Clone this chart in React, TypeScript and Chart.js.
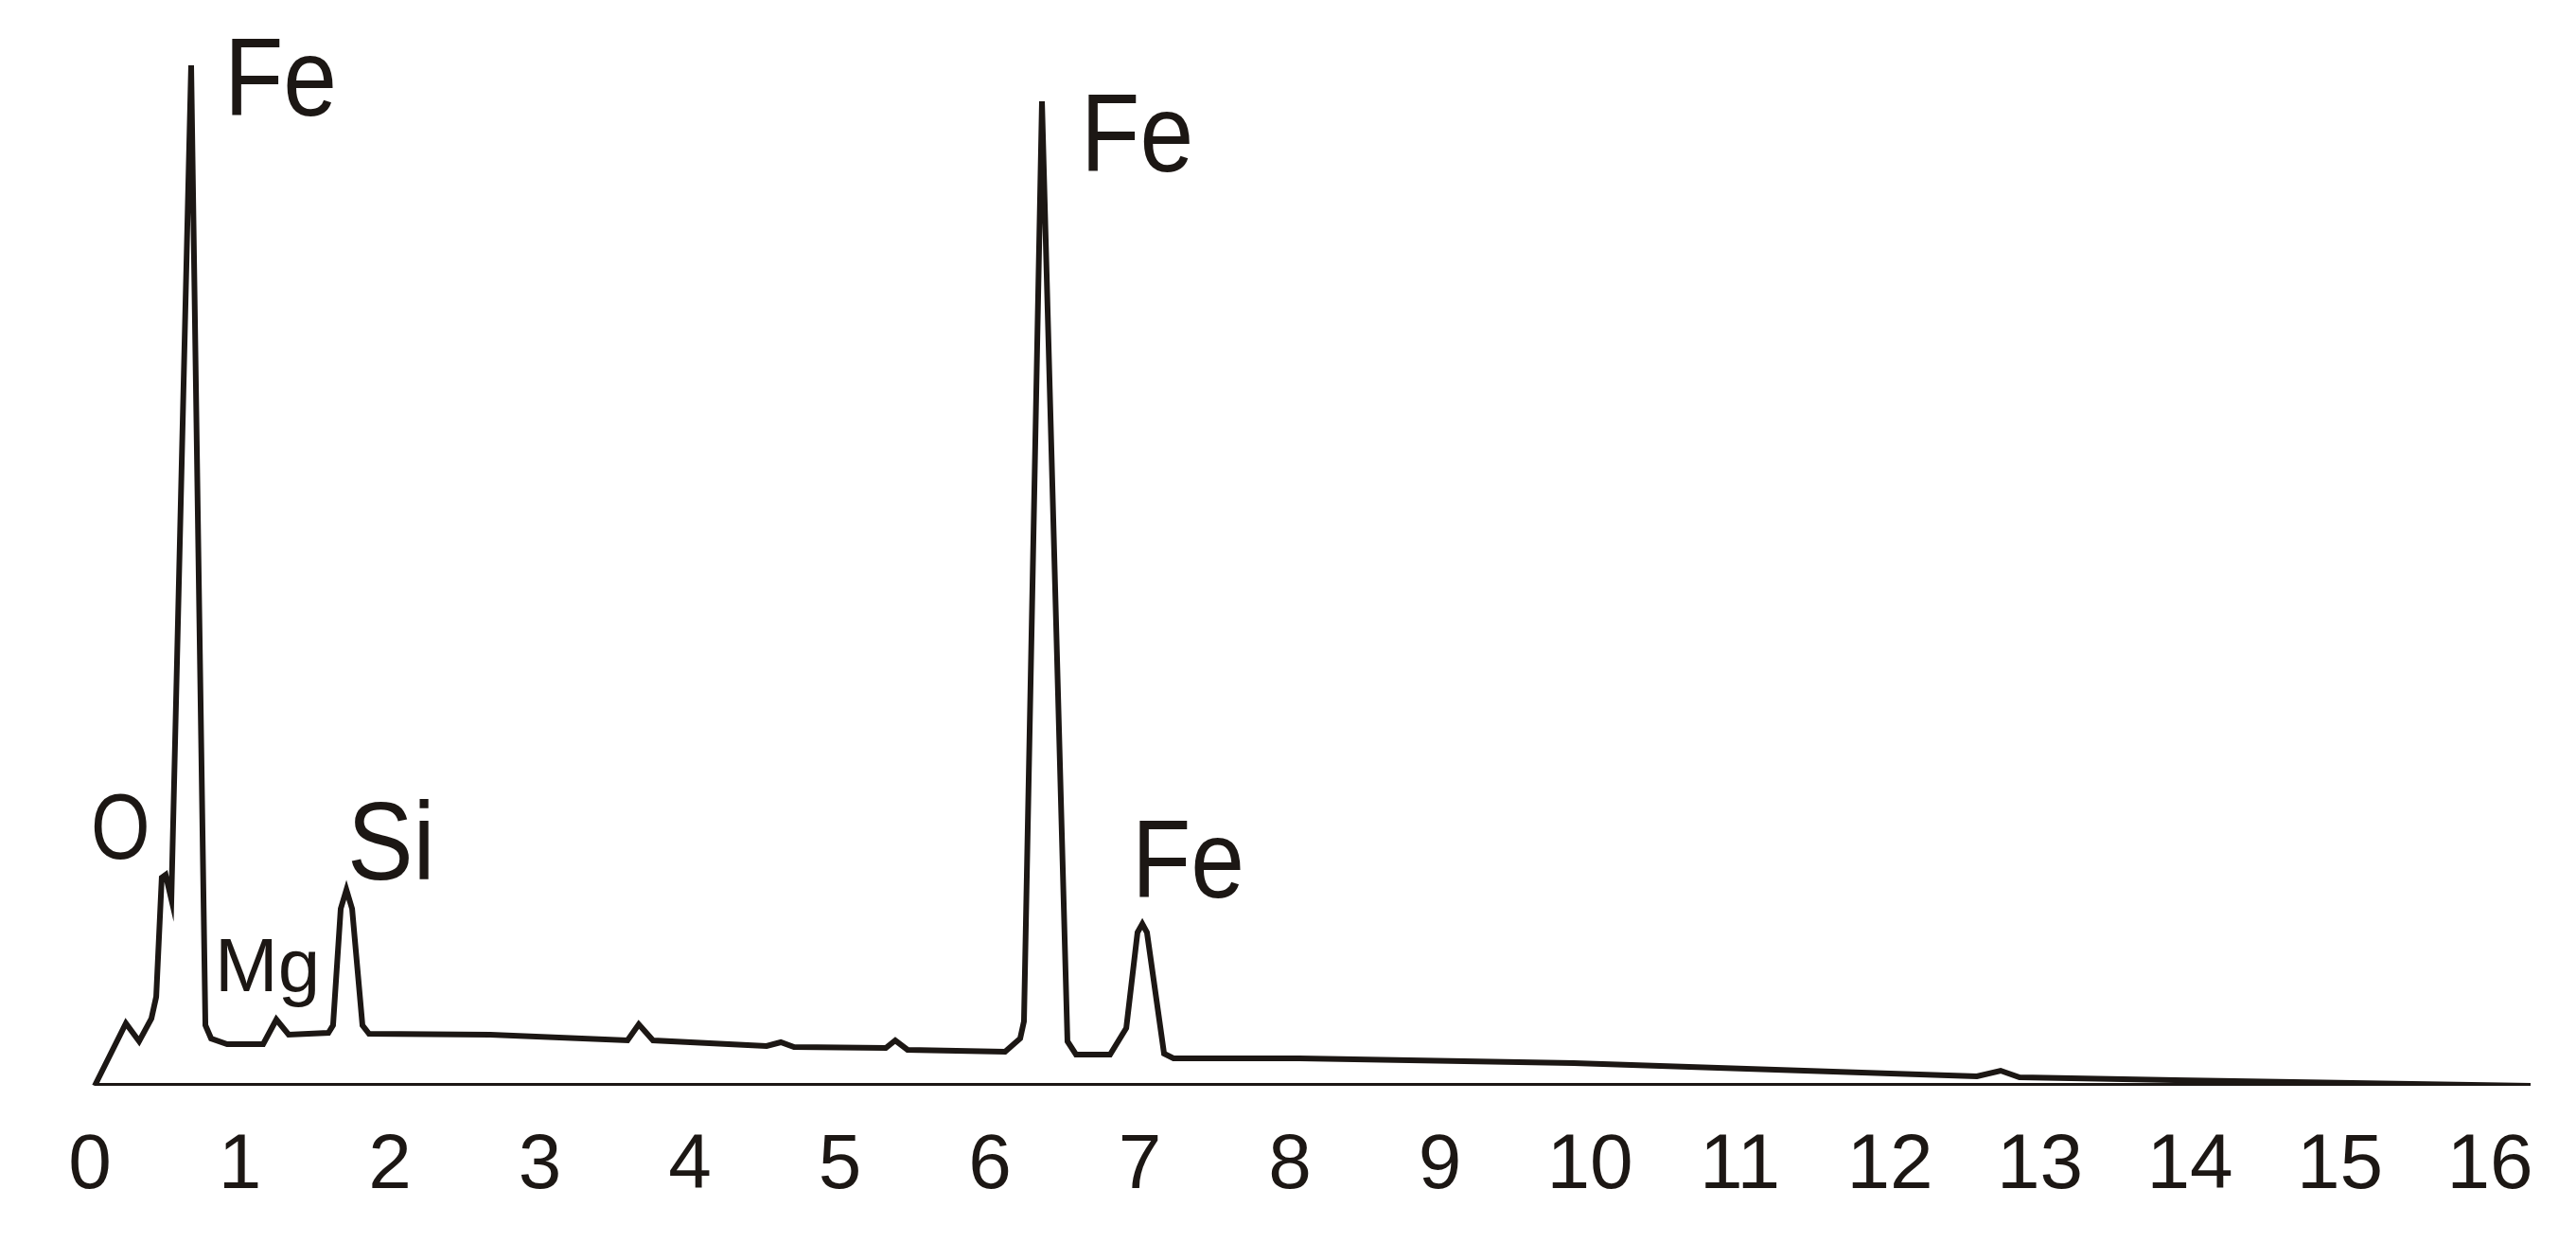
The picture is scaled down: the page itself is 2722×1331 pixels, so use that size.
import React, { useEffect, useRef } from 'react';
import { Chart, registerables } from 'chart.js';

Chart.register(...registerables);

// Spectrum trace (energy in keV, counts in arbitrary units)
const energy = [
  0.032, 0.240, 0.328, 0.410, 0.442, 0.479, 0.505, 0.543, 0.675, 0.770,
  0.808, 0.915, 1.155, 1.243, 1.325, 1.590, 1.621, 1.672, 1.710, 1.748,
  1.817, 1.861, 2.669, 3.584, 3.659, 3.754, 4.511, 4.606, 4.694, 5.306,
  5.369, 5.451, 6.101, 6.202, 6.227, 6.347, 6.517, 6.574, 6.801, 6.909,
  6.984, 7.016, 7.047, 7.161, 7.224, 8.063, 9.893, 12.580, 12.738, 12.864,
  13.899, 16.271,
];
const counts = [
  0, 66, 47, 71, 94, 220, 223, 197, 1078, 64,
  50, 44, 44, 70, 54, 56, 64, 187, 207, 187,
  64, 55, 54, 48, 65, 48, 42, 46, 41, 40,
  48, 38, 36, 50, 68, 1040, 47, 33, 33, 61,
  162, 171, 162, 34, 29, 29, 24, 10, 16, 9,
  6, 0,
];

// Baseline drawn under the trace
const baselineEnergy = [0.032, 16.271];
const baselineCounts = [0, 0];

// Axis ticks
const tickValues = [0, 1, 2, 3, 4, 5, 6, 7, 8, 9, 10, 11, 12, 13, 14, 15, 16];
const tickLabels = ['0', '1', '2', '3', '4', '5', '6', '7', '8', '9', '10', '11', '12', '13', '14', '15', '16'];

// Peak labels
const peakLabelTexts = ['Fe', 'Fe', 'Fe', 'O', 'Si', 'Mg'];
const peakLabelEnergy = [0.896, 6.606, 6.946, 0.006, 1.716, 0.833];
const peakLabelCounts = [1025, 966, 199, 240, 218, 100];

const INK = '#1c1714';
const FONT = '"Liberation Sans", Arial, Helvetica, sans-serif';
const peakLabelFontSizes = [116, 116, 116, 98, 116, 80];
const peakLabelStretch = [0.88, 0.88, 0.88, 0.82, 0.9, 1.0];

const peakLabelPlugin = {
  id: 'peakLabels',
  afterDatasetsDraw(chart: any) {
    const { ctx, scales } = chart;
    const x = scales.x;
    const y = scales.y;
    peakLabelTexts.forEach((t, i) => {
      const px = x.getPixelForValue(peakLabelEnergy[i]);
      const py = y.getPixelForValue(peakLabelCounts[i]);
      ctx.save();
      ctx.fillStyle = INK;
      ctx.textAlign = 'left';
      ctx.textBaseline = 'alphabetic';
      ctx.font = `${peakLabelFontSizes[i]}px ${FONT}`;
      ctx.translate(px, py);
      ctx.scale(peakLabelStretch[i], 1);
      ctx.fillText(t, 0, 0);
      ctx.restore();
    });
  },
};

export default function App() {
  const canvasRef = useRef<HTMLCanvasElement | null>(null);

  useEffect(() => {
    const canvas = canvasRef.current;
    if (!canvas) return;
    const chart = new Chart(canvas, {
      type: 'line',
      data: {
        datasets: [
          {
            label: 'Spectrum',
            data: energy.map((e, i) => ({ x: e, y: counts[i] })),
            borderColor: INK,
            borderWidth: 6,
            pointRadius: 0,
            tension: 0,
            fill: false,
          },
          {
            label: 'Baseline',
            data: baselineEnergy.map((e, i) => ({ x: e, y: baselineCounts[i] })),
            borderColor: INK,
            borderWidth: 6,
            pointRadius: 0,
            tension: 0,
            fill: false,
          },
        ],
      },
      options: {
        animation: false,
        responsive: false,
        maintainAspectRatio: false,
        devicePixelRatio: 1,
        layout: { padding: { left: 95, right: 48, top: 47, bottom: 0 } },
        plugins: {
          legend: { display: false },
          tooltip: { enabled: false },
        },
        scales: {
          x: {
            type: 'linear',
            min: 0,
            max: 16.271,
            grid: { display: false, drawTicks: false },
            border: { display: false },
            afterBuildTicks: (scale: any) => {
              scale.ticks = tickValues.map((v) => ({ value: v }));
            },
            afterFit: (scale: any) => {
              scale.height = 184;
            },
            ticks: {
              autoSkip: false,
              maxRotation: 0,
              minRotation: 0,
              padding: 36,
              color: INK,
              font: { family: FONT, size: 82 },
              callback: (v: any) => {
                const idx = tickValues.indexOf(Number(v));
                return idx >= 0 ? tickLabels[idx] : '';
              },
            },
          },
          y: {
            type: 'linear',
            display: false,
            min: 0,
            max: 1100,
          },
        },
      },
      plugins: [peakLabelPlugin],
    });
    return () => chart.destroy();
  }, []);

  return (
    <div style={{ position: 'absolute', left: 0, top: 0, width: 2722, height: 1331, background: '#ffffff' }}>
      <canvas ref={canvasRef} width={2722} height={1331} style={{ display: 'block', width: 2722, height: 1331 }} />
    </div>
  );
}
